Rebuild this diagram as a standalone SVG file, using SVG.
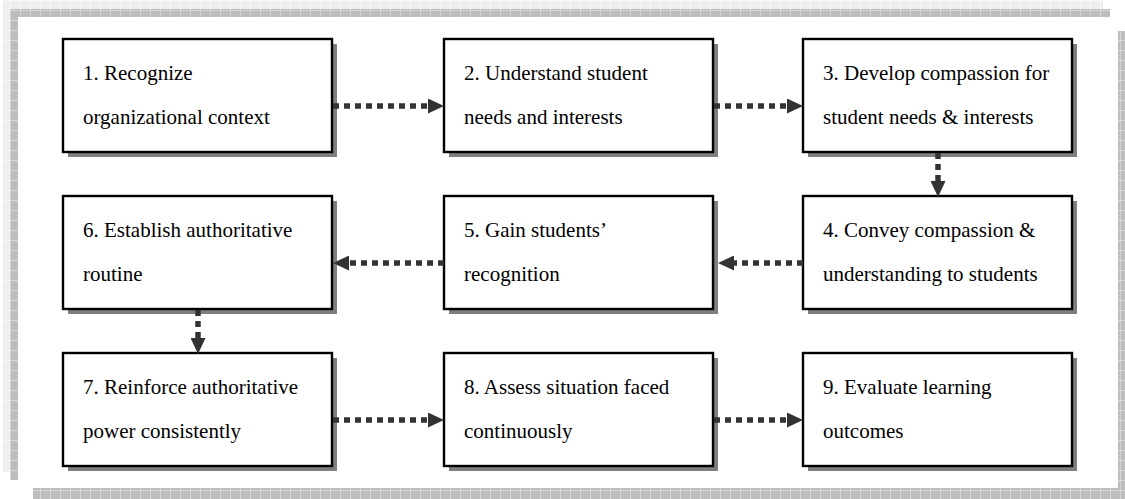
<svg xmlns="http://www.w3.org/2000/svg" width="1125" height="499" viewBox="0 0 1125 499">
<style>
.box{fill:#ffffff;stroke:#000000;stroke-width:2.4}
.shadow{fill:#7f7f7f}
.lbl{font-family:"Liberation Serif","Times New Roman",serif;font-size:21px;fill:#000000}
.con{fill:none;stroke:#333333;stroke-width:5.5;stroke-dasharray:6 5}
</style>
<defs>
<pattern id="dark" width="10" height="10" patternUnits="userSpaceOnUse">
<rect width="10" height="10" fill="#bdbdbd"/>
<path d="M0,0.5 H10 M0.5,0 V10" stroke="#d6d6d6" stroke-width="1"/>
</pattern>
<pattern id="light" width="10" height="10" patternUnits="userSpaceOnUse">
<rect width="10" height="10" fill="#efefef"/>
<path d="M0,0.5 H10 M0.5,0 V10" stroke="#f8f8f8" stroke-width="1"/>
</pattern>
<marker id="ah" viewBox="0 0 16 15" refX="0" refY="7.5" markerWidth="16" markerHeight="15" orient="auto" markerUnits="userSpaceOnUse">
<path d="M0,0 L16,7.5 L0,15 z" fill="#333333"/>
</marker>
</defs>
<rect width="1125" height="499" fill="#ffffff"/>
<g id="frame">
<rect x="3" y="0" width="1100" height="9" fill="url(#light)"/>
<rect x="3" y="0" width="7" height="472" fill="url(#light)"/>
<rect x="10" y="9" width="1100" height="8" fill="url(#dark)"/>
<rect x="10" y="9" width="8" height="471" fill="url(#dark)"/>
<rect x="1118" y="31" width="7" height="468" fill="url(#dark)"/>
<rect x="33" y="488" width="1092" height="11" fill="url(#dark)"/>
</g>
<g id="node1"><rect class="shadow" x="68" y="44" width="269" height="113"/><rect class="box" x="63" y="39" width="269" height="113"/><text class="lbl" x="83" y="80">1. Recognize</text><text class="lbl" x="83" y="124">organizational context</text></g>
<g id="node2"><rect class="shadow" x="449" y="44" width="269" height="113"/><rect class="box" x="444" y="39" width="269" height="113"/><text class="lbl" x="464" y="80">2. Understand student</text><text class="lbl" x="464" y="124">needs and interests</text></g>
<g id="node3"><rect class="shadow" x="808" y="44" width="269" height="113"/><rect class="box" x="803" y="39" width="269" height="113"/><text class="lbl" x="823" y="80">3. Develop compassion for</text><text class="lbl" x="823" y="124">student needs &amp; interests</text></g>
<g id="node4"><rect class="shadow" x="808" y="201" width="269" height="113"/><rect class="box" x="803" y="196" width="269" height="113"/><text class="lbl" x="823" y="237">4. Convey compassion &amp;</text><text class="lbl" x="823" y="281">understanding to students</text></g>
<g id="node5"><rect class="shadow" x="449" y="201" width="269" height="113"/><rect class="box" x="444" y="196" width="269" height="113"/><text class="lbl" x="464" y="237">5. Gain students’</text><text class="lbl" x="464" y="281">recognition</text></g>
<g id="node6"><rect class="shadow" x="68" y="201" width="269" height="113"/><rect class="box" x="63" y="196" width="269" height="113"/><text class="lbl" x="83" y="237">6. Establish authoritative</text><text class="lbl" x="83" y="281">routine</text></g>
<g id="node7"><rect class="shadow" x="68" y="358" width="269" height="113"/><rect class="box" x="63" y="353" width="269" height="113"/><text class="lbl" x="83" y="394">7. Reinforce authoritative</text><text class="lbl" x="83" y="438">power consistently</text></g>
<g id="node8"><rect class="shadow" x="449" y="358" width="269" height="113"/><rect class="box" x="444" y="353" width="269" height="113"/><text class="lbl" x="464" y="394">8. Assess situation faced</text><text class="lbl" x="464" y="438">continuously</text></g>
<g id="node9"><rect class="shadow" x="808" y="358" width="269" height="113"/><rect class="box" x="803" y="353" width="269" height="113"/><text class="lbl" x="823" y="394">9. Evaluate learning</text><text class="lbl" x="823" y="438">outcomes</text></g>
<g id="connectors">
<path class="con" d="M333,106 H428" marker-end="url(#ah)"/>
<path class="con" d="M714,106 H787" marker-end="url(#ah)"/>
<path class="con" d="M938,153 V181" marker-end="url(#ah)"/>
<path class="con" d="M803,263 H734" marker-end="url(#ah)"/>
<path class="con" d="M444,263 H349" marker-end="url(#ah)"/>
<path class="con" d="M198,310 V338" marker-end="url(#ah)"/>
<path class="con" d="M333,420 H428" marker-end="url(#ah)"/>
<path class="con" d="M714,420 H787" marker-end="url(#ah)"/>
</g>
</svg>
